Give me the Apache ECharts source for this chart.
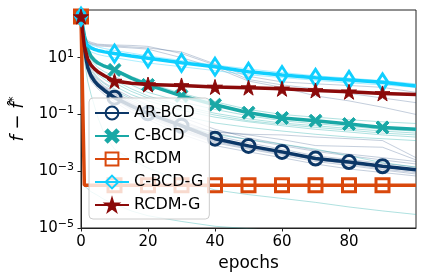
<!DOCTYPE html>
<html><head><meta charset="utf-8">
<script src="https://cdn.jsdelivr.net/npm/echarts@6/dist/echarts.min.js"></script>
<style>html,body{margin:0;padding:0;background:#fff}#c{width:426px;height:279px}</style>
</head><body><div id="c"></div>
<script>
// ---- data ----
const epochsMed = [0,1,2,3,4,5,7,10,15,20,30,40,50,60,70,80,90,100];
const markerEpochs = [0,10,20,30,40,50,60,70,80,90];
const arBcd  = [280,20,4.5,2.3,1.5,1.1,0.7,0.39,0.2,0.11,0.04,0.014,0.0078,0.0048,0.0028,0.0021,0.0015,0.00113];
const cBcd   = [280,60,20,11,8,6.5,5,3.7,1.9,1.1,0.45,0.22,0.115,0.075,0.06,0.046,0.035,0.03];
const rcdm   = [280,0.00032,0.00032,0.00032,0.00032,0.00032,0.00032,0.00032,0.00032,0.00032,0.00032,0.00032,0.00032,0.00032,0.00032,0.00032,0.00032,0.00032];
const cBcdG  = [280,40,27,22,19.5,18,16,14,11.5,9.5,6.6,4.8,3.2,2.45,1.95,1.65,1.35,1.0];
const rcdmG  = [280,25,9,5.5,4,3.2,2.3,1.5,1.25,1.13,1.05,0.93,0.88,0.8,0.7,0.63,0.55,0.5];

const epochsRun = [0,1,2,3,5,7,10,15,20,30,40,50,60,70,80,90,100];
const arRun1  = [280,15,3.5,1.8,0.9,0.6,0.33,0.15,0.08,0.025,0.01,0.006,0.0037,0.0022,0.0016,0.0011,0.0008];
const arRun2  = [280,25,5,2.6,1.3,0.85,0.5,0.24,0.14,0.045,0.018,0.01,0.006,0.0035,0.0026,0.0019,0.0014];
const arRun3  = [280,18,4,2,1,0.7,0.4,0.18,0.1,0.03,0.012,0.007,0.0042,0.0025,0.0018,0.0012,0.0009];
const arRun4  = [280,30,6,3,1.6,1,0.6,0.3,0.17,0.06,0.022,0.013,0.008,0.005,0.0035,0.0025,0.0018];
const arRun5  = [280,12,3,1.5,0.8,0.5,0.28,0.12,0.065,0.02,0.008,0.0048,0.003,0.0018,0.0012,0.0009,0.00068];
const arRun6  = [280,22,4.5,2.4,1.2,0.8,0.45,0.22,0.12,0.04,0.025,0.02,0.019,0.016,0.014,0.012,0.003];
const arRun7  = [280,28,5.5,2.8,1.4,0.9,0.55,0.26,0.15,0.05,0.024,0.019,0.013,0.008,0.0075,0.007,0.0025];
const arRun8  = [280,40,8,4,2,1.3,0.8,0.4,0.22,0.08,0.03,0.015,0.009,0.0055,0.004,0.003,0.0022];
const arRun9  = [280,60,40,35,30,29,28,27,25,14,5.5,1.7,1.1,0.8,0.55,0.38,0.26];
const arRun10 = [280,50,35,30,26,25,24,22,20,10,4.5,1.5,0.9,0.45,0.3,0.18,0.1];
const arRun11 = [280,45,36,32,28,27,26,24,22,16,6,2.2,1.4,1.2,1.05,0.9,0.6];
const arRun12 = [280,20,4.2,2.2,1.1,0.75,0.42,0.2,0.11,0.035,0.014,0.0085,0.005,0.003,0.0022,0.0016,0.0012];
const arRun13 = [280,16,3.8,1.9,0.95,0.65,0.36,0.16,0.09,0.028,0.011,0.0065,0.0041,0.0026,0.0019,0.0014,0.001];

const cbRun1 = [280,40,12,6,3.5,2.5,1.6,0.8,0.45,0.2,0.11,0.07,0.05,0.04,0.032,0.026,0.022];
const cbRun2 = [280,30,9,5,2.5,1.7,1.0,0.5,0.3,0.14,0.08,0.055,0.04,0.03,0.024,0.019,0.016];
const cbRun3 = [280,50,15,8,4.5,3.2,2.2,1.1,0.6,0.28,0.15,0.09,0.06,0.047,0.038,0.03,0.026];
const cbRun4 = [280,25,7,3.5,1.8,1.2,0.7,0.35,0.2,0.09,0.05,0.035,0.026,0.02,0.016,0.014,0.012];
const cbRun5 = [280,70,25,13,7.5,5.5,4,2.2,1.3,0.55,0.28,0.15,0.1,0.08,0.065,0.055,0.048];
const cbRun6 = [280,35,10,5.5,3,2,1.3,0.65,0.38,0.17,0.095,0.06,0.045,0.035,0.028,0.022,0.019];
const cbRun7 = [280,8,1.5,0.5,0.08,0.02,0.006,0.0025,0.0013,0.00045,0.00022,0.00015,0.00011,0.00008,0.000055,0.00004,0.00003];
const cbRun8 = [280,0.0003,0.00024,0.00019,0.00014,0.0001,0.00007,0.00004,0.000027,0.000017,0.0000115,0.0000095,0.0000075,0.000006,0.000005,0.000004,0.0000035];
const cbRun9 = [280,20,5,2.5,1.2,0.7,0.4,0.18,0.1,0.04,0.02,0.013,0.009,0.006,0.0035,0.002,0.0014];

const cgRun1 = [280,30,20,16,13,11.5,10,8,6.5,4.8,3.5,2.5,2,1.6,1.3,1.1,0.9];
const cgRun2 = [280,60,35,28,24,21,18,14.5,11.5,8,5.5,4,3,2.3,1.9,1.55,1.2];

const xTicks = [0,20,40,60,80];
const yTicks = [1e-5,1e-3,1e-1,10];
const seriesNames = ['AR-BCD','C-BCD','RCDM','C-BCD-G','RCDM-G'];

// ---- styling ----
const NAVY='#0c3767', TEAL='#19a8a6', ORANGE='#d9480c', CYAN='#10cfff', DRED='#8b0a0a';
const FONT='DejaVu Sans';
const STAR='path://M100,0L122.45,69.1L195.1,69.1L136.3,111.8L158.8,180.9L100,138.2L41.2,180.9L63.7,111.8L4.9,69.1L77.55,69.1Z';
const XMARK='path://M0,1.6L1.6,0L5,3.4L8.4,0L10,1.6L6.6,5L10,8.4L8.4,10L5,6.6L1.6,10L0,8.4L3.4,5Z';

const mk = new Set(markerEpochs);
function medData(vals){ return epochsMed.map((x,i)=> mk.has(x) ? {value:[x,vals[i]]} : {value:[x,vals[i]], symbol:'none'}); }
function runData(vals){ return epochsRun.map((x,i)=>[x,vals[i]]); }
function thin(name, vals, color){
  return {name:name, type:'line', data:runData(vals), symbol:'none', silent:true, z:2,
    lineStyle:{color:color, width:1}, emphasis:{disabled:true}};
}
const arThin='rgba(20,60,115,0.25)', cbThin='rgba(25,168,166,0.35)', cgThin='rgba(16,207,255,0.35)';
const series = [];
[arRun1,arRun2,arRun3,arRun4,arRun5,arRun6,arRun7,arRun8,arRun9,arRun10,arRun11,arRun12,arRun13].forEach((r,i)=>series.push(thin('ar'+i,r,arThin)));
[cbRun1,cbRun2,cbRun3,cbRun4,cbRun5,cbRun6,cbRun7,cbRun8,cbRun9].forEach((r,i)=>series.push(thin('cb'+i,r,cbThin)));
[cgRun1,cgRun2].forEach((r,i)=>series.push(thin('cg'+i,r,cgThin)));

function thick(name, vals, color, symbol, size, hollow){
  return {name:name, type:'line', data:medData(vals), symbol:symbol, symbolSize:size, z:3,
    lineStyle:{color:color, width:3.5},
    itemStyle: hollow ? {color:'rgba(255,255,255,0)', borderColor:color, borderWidth:3} : {color:color, borderColor:color, borderWidth:1},
    emphasis:{disabled:true}};
}
series.push(thick(seriesNames[0], arBcd, NAVY, 'circle', 13, true));
series.push(thick(seriesNames[1], cBcd, TEAL, XMARK, 13, false));
series.push(thick(seriesNames[2], rcdm, ORANGE, 'rect', 13, true));
series.push(thick(seriesNames[3], cBcdG, CYAN, 'diamond', [11,17], true));
series.push(thick(seriesNames[4], rcdmG, DRED, STAR, 15, false));

const chart = echarts.init(document.getElementById('c'), null, {renderer:'canvas'});
chart.setOption({
  animation:false,
  backgroundColor:'#fff',
  grid:{left:81, right:10, top:10, bottom:51, show:true, borderColor:'#222', borderWidth:1, backgroundColor:'rgba(0,0,0,0)'},
  legend:{data:seriesNames, orient:'vertical', left:89, top:98, padding:[7,6,6,5], z:20, zlevel:0,
    itemWidth:34, itemHeight:16, itemGap:7, itemTextGap:13, selectedMode:false,
    backgroundColor:'rgba(255,255,255,0.8)', borderColor:'#cccccc', borderWidth:1, borderRadius:4,
    textStyle:{fontFamily:FONT, fontSize:16, color:'#000', lineHeight:16}},
  xAxis:{type:'value', min:0, max:100, interval:20,
    axisLine:{show:true, lineStyle:{color:'#222', width:1}},
    axisTick:{show:true, inside:false, length:3.5, lineStyle:{color:'#222'}, customValues:xTicks},
    axisLabel:{customValues:xTicks, fontFamily:FONT, fontSize:15, color:'#000', margin:7},
    splitLine:{show:false},
    name:'epochs', nameLocation:'middle', nameGap:24,
    nameTextStyle:{fontFamily:FONT, fontSize:17, color:'#000'}},
  yAxis:{type:'log', logBase:10, min:1e-5, max:478,
    axisLine:{show:true, lineStyle:{color:'#222', width:1}},
    axisTick:{show:true, inside:false, length:3.5, lineStyle:{color:'#222'}, customValues:yTicks},
    axisLabel:{customValues:yTicks, margin:7, color:'#000',
      formatter:function(v){ const e=Math.round(Math.log10(v)); return '{b|10}{s|'+(e<0?'\u2212'+(-e):String(e))+'}'; },
      rich:{b:{fontFamily:FONT, fontSize:15, color:'#000'}, s:{fontFamily:FONT, fontSize:11, color:'#000', padding:[0,0,8,0]}}},
    splitLine:{show:false}, minorTick:{show:false},
    name:'{i|f}{n| \u2212 }{i|f\u0302}{sup|*}', nameLocation:'middle', nameRotate:90, nameGap:50,
    nameTextStyle:{rich:{i:{fontFamily:FONT, fontStyle:'italic', fontSize:18, color:'#000'},
      n:{fontFamily:FONT, fontSize:18, color:'#000'},
      sup:{fontFamily:FONT, fontSize:12, color:'#000', padding:[0,0,9,0]}}}},
  series:series
});
</script></body></html>
